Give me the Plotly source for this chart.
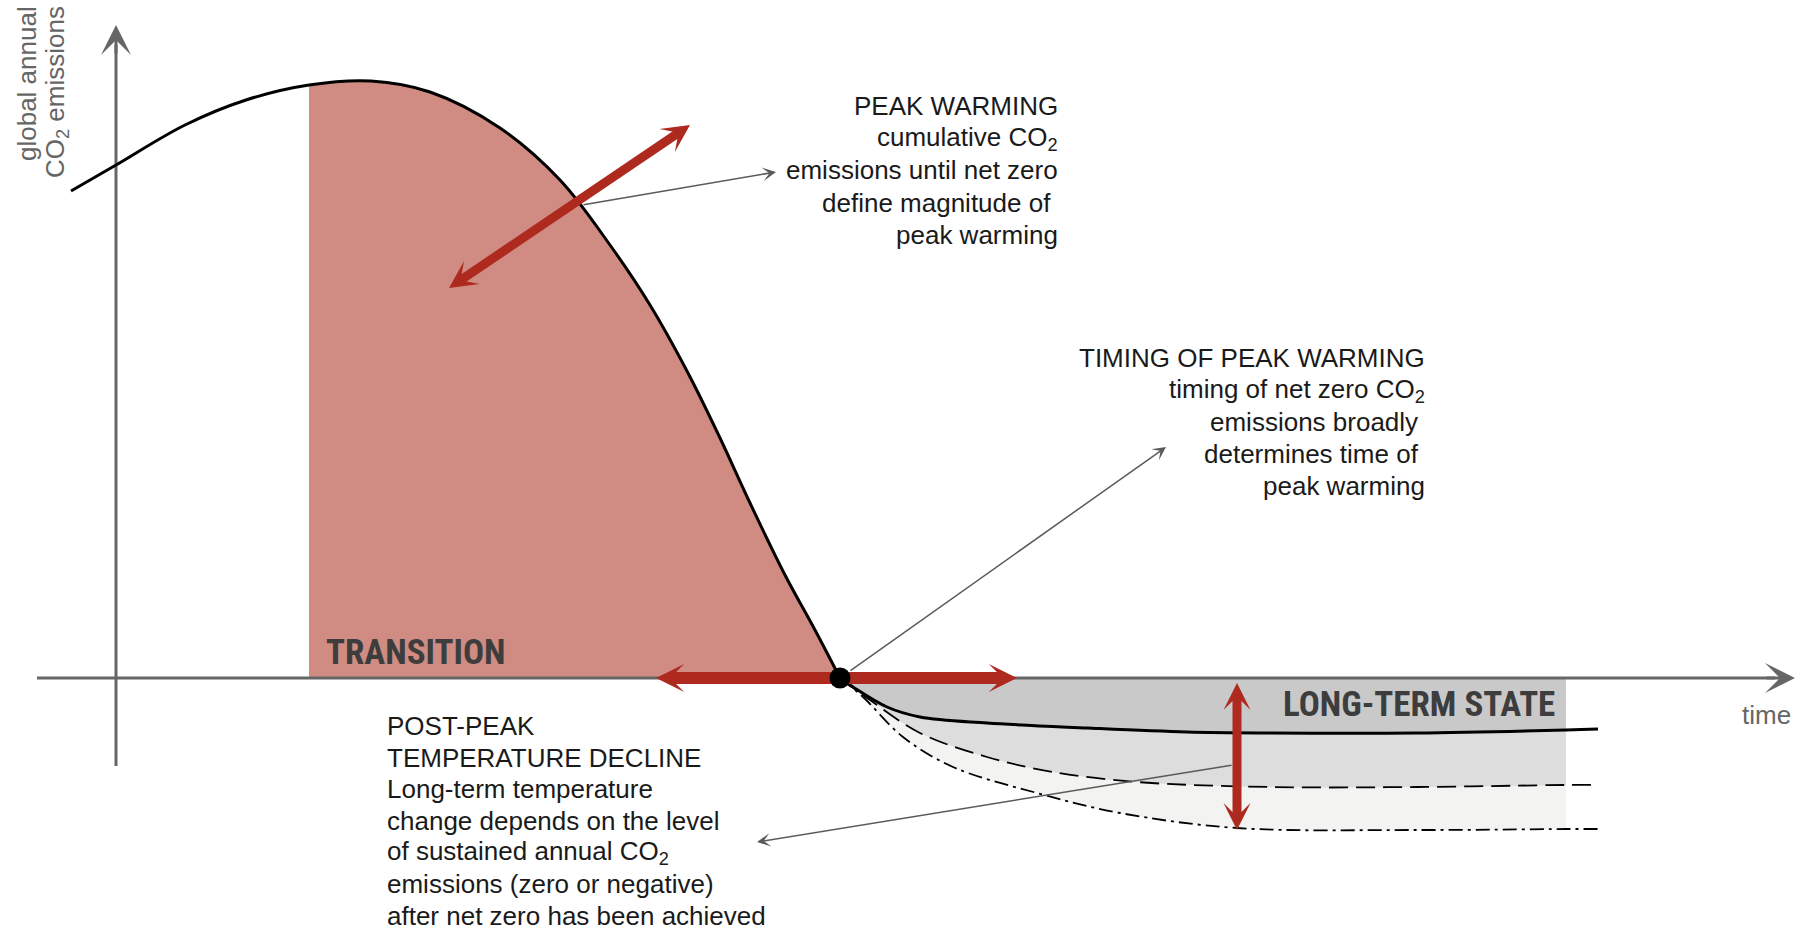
import numpy as np
import plotly.graph_objects as go

# ---------------- data (schematic units: x = time, y = global annual CO2 emissions) -------------
# emission pathway up to net zero
path_x = [-45, 0, 69, 130, 193, 255, 314, 384, 444, 494, 534, 572, 604, 634, 669, 699, 724]
path_y = [487, 513, 553, 578, 593, 597, 586, 550, 498, 433, 373, 305, 240, 175, 103, 48, 0]
transition_start = 193          # start of the shaded "transition" period
longterm_end = 1450             # end of the shaded "long-term state" period

# sustained emissions after net zero (three alternative levels)
solid_x = [724, 737, 771, 804, 871, 971, 1071, 1154, 1300, 1450, 1482]
solid_y = [0, -9, -29, -39, -45, -50, -54, -55, -55, -52, -51]
dashed_x = [724, 754, 804, 871, 937, 1021, 1154, 1300, 1450, 1482]
dashed_y = [0, -22, -55, -79, -94, -104, -109, -109, -107, -107]
dashdot_x = [724, 747, 787, 837, 921, 1004, 1121, 1300, 1450, 1482]
dashdot_y = [0, -19, -59, -89, -115, -135, -150, -152, -151, -151]

# axes extents
x_axis = [-79, 1679]
y_axis = [-88, 653]

# double arrows (tip A, tip B)
arrow_peak = [(333, 390), (574, 553)]
arrow_timing = [(540, 0), (901, 0)]
arrow_decline = [(1121, -5), (1121, -152)]

# pointer arrows (from, to)
pointer_peak = [(466, 473), (660, 506)]
pointer_timing = [(724, 0), (1050, 231)]
pointer_decline = [(1117, -87), (641, -164)]

# texts
peak_lines = ["PEAK WARMING", "cumulative CO<sub>2</sub>", "emissions until net zero",
              "define magnitude of\u00a0", "peak warming"]
timing_lines = ["TIMING OF PEAK WARMING", "timing of net zero CO<sub>2</sub>",
                "emissions broadly\u00a0", "determines time of\u00a0", "peak warming"]
post_lines = ["POST-PEAK", "TEMPERATURE DECLINE", "Long-term temperature",
              "change depends on the level", "of sustained annual CO<sub>2</sub>",
              "emissions (zero or negative)", "after net zero has been achieved"]
ylabel_lines = ["global annual", "CO<sub>2</sub> emissions"]
xlabel = "time"
phase_labels = ["TRANSITION", "LONG-TERM STATE"]

# ---------------- styles ----------------
RED = "#ae2a1f"
AXIS = "#666666"
TEXT = "#1a1a1a"
LABEL = "#3d3d3d"
POINTER = "#5a5a5a"
FONT = "Liberation Sans, Arial, Helvetica, sans-serif"
NARROW = "Liberation Sans Narrow, Arial Narrow, Roboto Condensed, Liberation Sans, sans-serif"
FS = 26

fig = go.Figure()


def add_line(xs, ys, color, width, dash=None, shape="linear"):
    fig.add_trace(go.Scatter(x=xs, y=ys, mode="lines", hoverinfo="skip",
                             line=dict(color=color, width=width, dash=dash, shape=shape)))


def add_fill(xs, ys, color):
    fig.add_trace(go.Scatter(x=xs, y=ys, mode="lines", hoverinfo="skip", fill="tozeroy",
                             fillcolor=color, line=dict(width=0, color=color, shape="spline")))


# transition area under the pathway
idx = [i for i, x in enumerate(path_x) if x >= transition_start]
add_fill([path_x[i] for i in idx], [path_y[i] for i in idx], "#d08b82")

# long-term state bands
for xs, ys, col in [(dashdot_x, dashdot_y, "#f3f3f2"),
                    (dashed_x, dashed_y, "#dddddd"),
                    (solid_x, solid_y, "#cac9ca")]:
    sel = [i for i, x in enumerate(xs) if x <= longterm_end]
    add_fill([xs[i] for i in sel], [ys[i] for i in sel], col)

annotations = []


def head(tip, direction, color, width, scale, shaft=20):
    tip = np.asarray(tip, float)
    tail = tip - shaft * direction
    annotations.append(dict(x=tip[0], y=tip[1], ax=tail[0], ay=tail[1], xref="x", yref="y",
                            axref="x", ayref="y", text="", showarrow=True, arrowhead=3,
                            arrowwidth=width, arrowsize=scale / width, arrowcolor=color))


# axes (lines as traces so that the red arrows sit on top)
add_line([x_axis[0], x_axis[1] - 20], [0, 0], AXIS, 3)
add_line([0, 0], [y_axis[0], y_axis[1] - 20], AXIS, 3)
head((x_axis[1], 0), np.array([1.0, 0.0]), AXIS, 3, 5.0, shaft=30)
head((0, y_axis[1]), np.array([0.0, 1.0]), AXIS, 3, 5.0, shaft=30)

# emission curves
add_line(path_x, path_y, "black", 3, shape="spline")
add_line(dashdot_x, dashdot_y, "black", 1.8, dash="14px,5px,3px,5px", shape="spline")
add_line(dashed_x, dashed_y, "black", 1.8, dash="19px,8px", shape="spline")
add_line(solid_x, solid_y, "black", 3, shape="spline")


def double_arrow(pts, width, scale):
    a, b = np.asarray(pts[0], float), np.asarray(pts[1], float)
    u = (b - a) / np.linalg.norm(b - a)
    inset = 3.0 * scale
    s0, s1 = a + inset * u, b - inset * u
    add_line([s0[0], s1[0]], [s0[1], s1[1]], RED, width)
    head(b, u, RED, 2, scale, shaft=2.2 * inset)
    head(a, -u, RED, 2, scale, shaft=2.2 * inset)


double_arrow(arrow_peak, 9, 4.6)
double_arrow(arrow_timing, 12, 4.7)
double_arrow(arrow_decline, 9, 4.5)

# net-zero point
fig.add_trace(go.Scatter(x=[path_x[-1]], y=[path_y[-1]], mode="markers", hoverinfo="skip",
                         marker=dict(color="black", size=21)))

# pointer arrows
for (p0, p1), so in [(pointer_peak, 0), (pointer_timing, 11), (pointer_decline, 0)]:
    annotations.append(dict(x=p1[0], y=p1[1], ax=p0[0], ay=p0[1], xref="x", yref="y",
                            axref="x", ayref="y", text="", showarrow=True, arrowhead=3,
                            arrowwidth=1.5, arrowsize=1.5, arrowcolor=POINTER,
                            startstandoff=so))


def text_block(lines, x, y0, step, anchor):
    for i, t in enumerate(lines):
        annotations.append(dict(x=x, y=y0 - i * step, xref="x", yref="y", text=t,
                                showarrow=False, xanchor=anchor, yanchor="middle",
                                align=anchor, font=dict(family=FONT, size=FS, color=TEXT)))


text_block(peak_lines, 944, 572, 32.2, "right")
text_block(timing_lines, 1311, 320, 32.0, "right")
text_block(post_lines, 269, -48, 31.6, "left")

# axis labels
annotations.append(dict(x=-89, y=594, xref="x", yref="y", text=ylabel_lines[0], showarrow=False,
                        textangle=-90, xanchor="center", yanchor="middle",
                        font=dict(family=FONT, size=FS, color=AXIS)))
annotations.append(dict(x=-60, y=586, xref="x", yref="y", text=ylabel_lines[1], showarrow=False,
                        textangle=-90, xanchor="center", yanchor="middle",
                        font=dict(family=FONT, size=FS, color=AXIS)))
annotations.append(dict(x=1650, y=-37, xref="x", yref="y", text=xlabel, showarrow=False,
                        xanchor="center", yanchor="middle",
                        font=dict(family=FONT, size=FS, color=AXIS)))

# phase labels
annotations.append(dict(x=208, y=26, xref="x", yref="y", text="<b>%s</b>" % phase_labels[0],
                        showarrow=False, xanchor="left", yanchor="middle",
                        font=dict(family=NARROW, size=35, color=LABEL)))
annotations.append(dict(x=1441, y=-26, xref="x", yref="y", text="<b>%s</b>" % phase_labels[1],
                        showarrow=False, xanchor="right", yanchor="middle",
                        font=dict(family=NARROW, size=35, color=LABEL)))

fig.update_layout(
    width=1813, height=931, margin=dict(l=0, r=0, t=0, b=0),
    paper_bgcolor="white", plot_bgcolor="white", showlegend=False,
    xaxis=dict(range=[-116, 1697], visible=False, fixedrange=True),
    yaxis=dict(range=[-253, 678], visible=False, fixedrange=True),
    annotations=annotations,
)

fig.write_html("out.html", config={"displayModeBar": False},
               post_script="document.body.style.margin='0';document.body.style.overflow='hidden';")
